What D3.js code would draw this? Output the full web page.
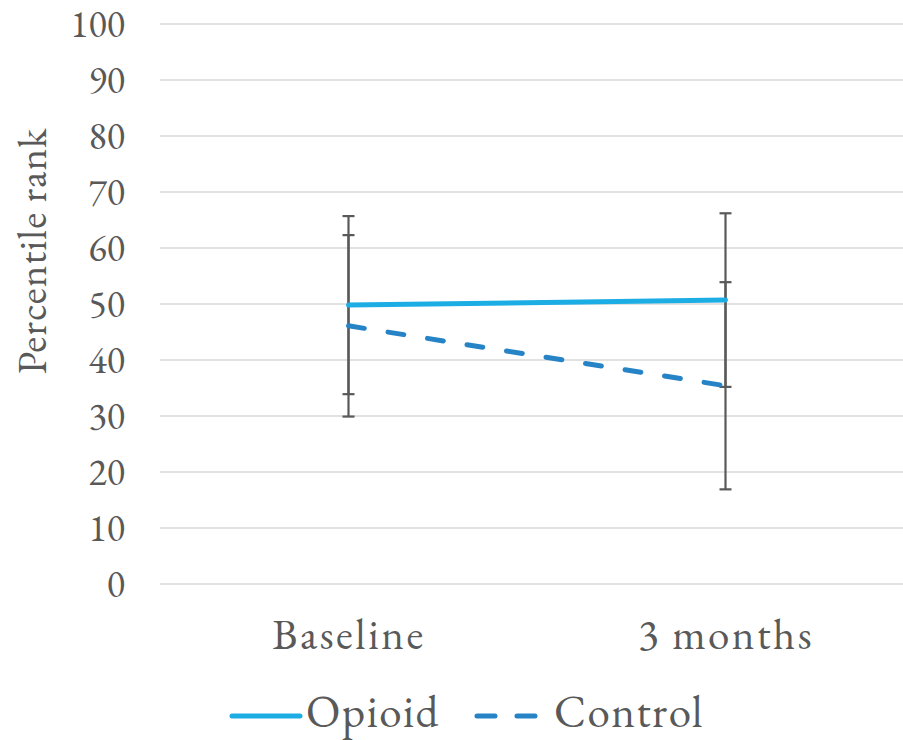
<!DOCTYPE html>
<html>
<head>
<meta charset="utf-8">
<script src="https://cdn.jsdelivr.net/npm/d3@7"></script>
<style>
  html, body { margin: 0; padding: 0; background: #fff; }
  svg { display: block; }
</style>
</head>
<body>
<svg id="chart" width="903" height="740"></svg>
<script>
// Categories and series
const categories = ["Baseline", "3 months"];
const seriesNames = ["Opioid", "Control"];
const opioidValues = [49.8, 50.7];
const opioidErrors = [15.9, 15.5];
const controlValues = [46.1, 35.4];
const controlErrors = [16.2, 18.5];
const yTicks = [0, 10, 20, 30, 40, 50, 60, 70, 80, 90, 100];

const FONT = "'EB Garamond', 'Liberation Serif', serif";
const TEXT_COLOR = "#595959";

const series = [
  { name: seriesNames[0], values: opioidValues, errors: opioidErrors, color: "#1CADE4", dash: null },
  { name: seriesNames[1], values: controlValues, errors: controlErrors, color: "#2683C6", dash: "16,24" }
];

const svg = d3.select("#chart");
const margin = { left: 160, right: -11, top: 24, bottom: 156 };
const W = 903, H = 740;

const x = d3.scalePoint()
  .domain(categories)
  .range([margin.left, W - margin.right])
  .padding(0.5);

const y = d3.scaleLinear()
  .domain([0, 100])
  .range([H - margin.bottom, margin.top]);

function styleText(sel, size) {
  sel.style("font-family", FONT)
    .style("font-size", size + "px")
    .style("fill", TEXT_COLOR);
}

// Horizontal gridlines
svg.append("g")
  .selectAll("line")
  .data(yTicks)
  .join("line")
  .attr("x1", margin.left)
  .attr("x2", W - margin.right)
  .attr("y1", d => y(d))
  .attr("y2", d => y(d))
  .attr("stroke", "#d9d9d9")
  .attr("stroke-width", 1.5);

// Y axis labels
const yAxis = d3.axisLeft(y).tickValues(yTicks).tickSize(0).tickPadding(35);
svg.append("g")
  .attr("transform", `translate(${margin.left},0)`)
  .call(yAxis)
  .call(g => g.select(".domain").remove())
  .call(g => g.selectAll("text").call(styleText, 38));

// X axis labels
const xAxis = d3.axisBottom(x).tickSize(0).tickPadding(34);
svg.append("g")
  .attr("transform", `translate(0,${y(0)})`)
  .call(xAxis)
  .call(g => g.select(".domain").remove())
  .call(g => g.selectAll("text").call(styleText, 43).style("letter-spacing", "2.5px"));

// Y axis title
svg.append("text")
  .attr("transform", `translate(46,${(y(0) + y(100)) / 2 - 53}) rotate(-90)`)
  .attr("text-anchor", "middle")
  .text("Percentile rank")
  .call(styleText, 41)
  .style("letter-spacing", "1px");

// Error bars
const capHalf = 6;
series.forEach(s => {
  const g = svg.append("g").attr("stroke", "#595959").attr("stroke-width", 2.2);
  categories.forEach((c, i) => {
    const cx = x(c);
    const lo = s.values[i] - s.errors[i];
    const hi = s.values[i] + s.errors[i];
    g.append("line").attr("x1", cx).attr("x2", cx).attr("y1", y(lo)).attr("y2", y(hi));
    g.append("line").attr("x1", cx - capHalf).attr("x2", cx + capHalf).attr("y1", y(lo)).attr("y2", y(lo));
    g.append("line").attr("x1", cx - capHalf).attr("x2", cx + capHalf).attr("y1", y(hi)).attr("y2", y(hi));
  });
});

// Series lines
const line = d3.line().x((d, i) => x(categories[i])).y(d => y(d));
series.forEach(s => {
  svg.append("path")
    .datum(s.values)
    .attr("d", line)
    .attr("fill", "none")
    .attr("stroke", s.color)
    .attr("stroke-width", 5)
    .attr("stroke-linecap", "round")
    .attr("stroke-dasharray", s.dash);
});

// Legend
const legendY = 716;
const legend = svg.append("g");
const legendItems = [
  { s: series[0], x0: 232, x1: 300, tx: 306 },
  { s: series[1], x0: 477, x1: 540, tx: 554 }
];
legendItems.forEach(it => {
  legend.append("line")
    .attr("x1", it.x0).attr("x2", it.x1)
    .attr("y1", legendY).attr("y2", legendY)
    .attr("stroke", it.s.color)
    .attr("stroke-width", 5)
    .attr("stroke-linecap", "round")
    .attr("stroke-dasharray", it.s.dash ? "18,22" : null);
  legend.append("text")
    .attr("x", it.tx)
    .attr("y", 727)
    .text(it.s.name)
    .call(styleText, 45)
    .style("letter-spacing", "1.5px");
});
</script>
</body>
</html>
